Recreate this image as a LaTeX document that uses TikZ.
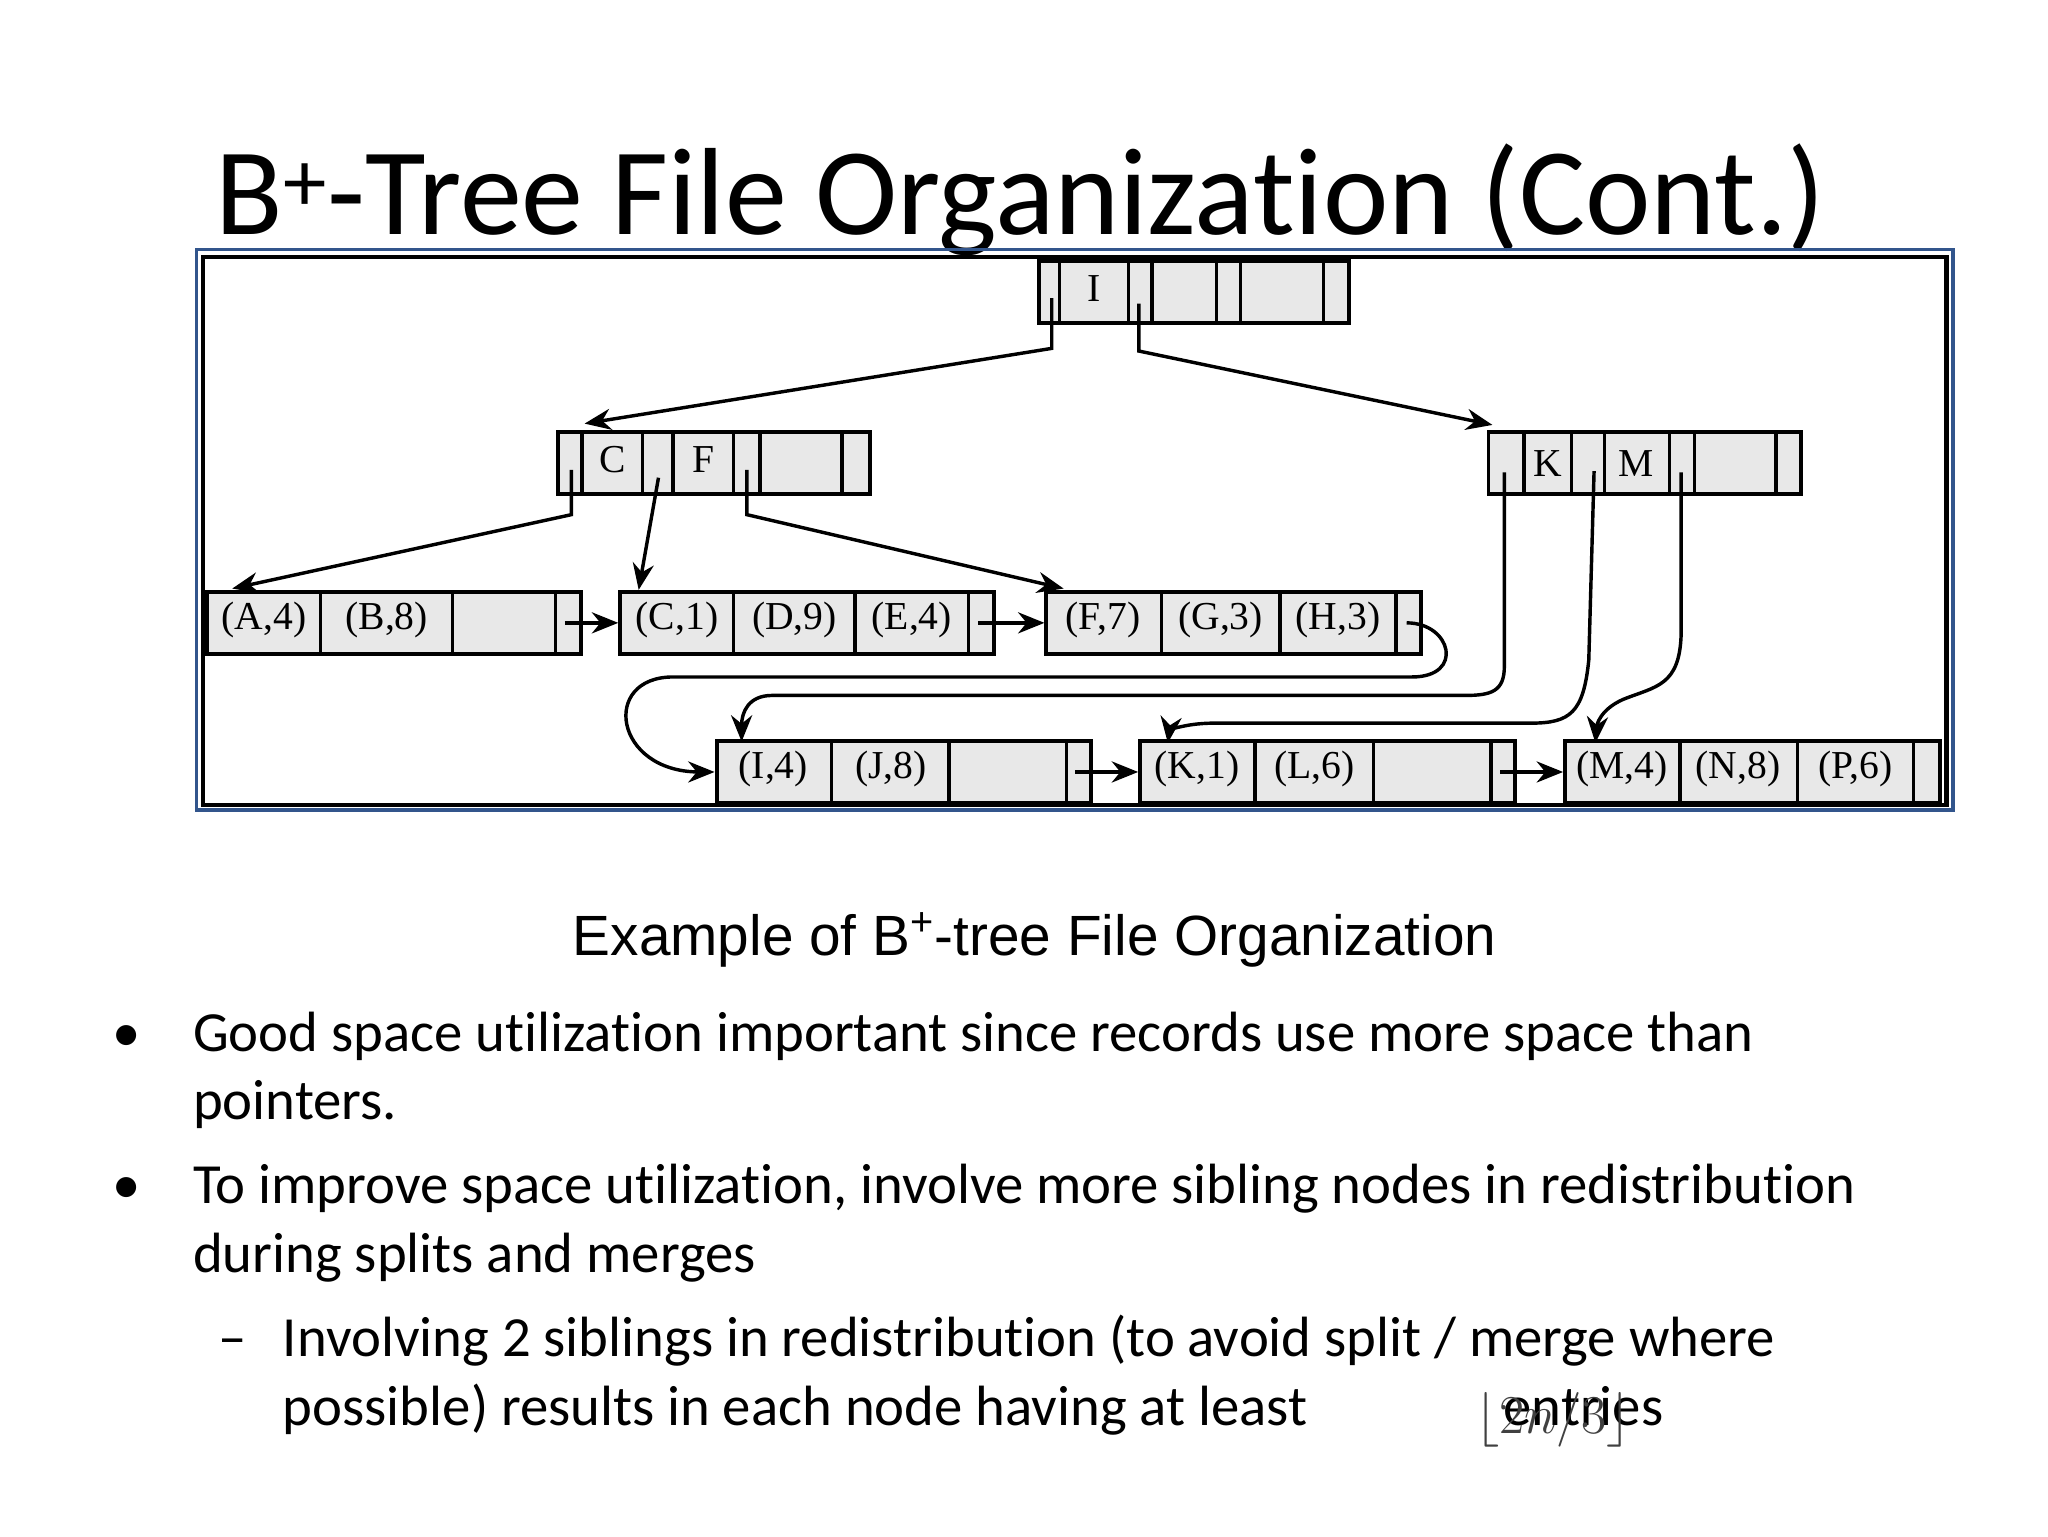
\documentclass[tikz,border=0pt]{standalone}
\usepackage{fontspec}
\setmainfont[RawFeature=-liga]{Carlito}
\newfontfamily\arialf{Liberation Sans}
\newfontfamily\treef{Liberation Serif}
\usetikzlibrary{arrows.meta,calc}
\newcommand{\bnode}[5]{%
  \node[bbox,minimum width={(#3-#2)*0.5pt}] (#1) at ({(#2+#3)/2},#4) {};
  \foreach \b in {#5} \draw[line width=1.3pt] (\b,#4-23) -- (\b,#4+23);
}
\tikzset{
  bbox/.style={draw,line width=1.5pt,fill=gray!18,minimum height=23.5pt,inner sep=0pt},
  lab/.style={font=\treef\fontsize{15}{15}\selectfont,inner sep=0pt},
  conn/.style={line width=1.3pt,-{Stealth[length=10pt,width=8pt]}},
  tick/.style={line width=1.3pt},
  body/.style={font=\fontsize{21.5}{25}\selectfont,anchor=base west,inner sep=0pt},
}
\begin{document}
\begin{tikzpicture}[x=0.5pt,y=-0.5pt]
\useasboundingbox (0,0) rectangle (1552,1164);
% title
\node[anchor=base west,inner sep=0pt,font=\fontsize{47}{50}\selectfont] (title) at (163,178) {B\textsuperscript{+}-Tree File Organization (Cont.)};
% frame
\draw[line width=1.4pt,color={rgb,255:red,50;green,85;blue,140}] (149,189) rectangle (1480,614);
\draw[line width=1.6pt] (154,195) rectangle (1475,610);
% root
\bnode{root}{787}{1022}{221.5}{803,855,873,922,940,1003}
\node[lab] (rI) at (829,219) {I};
% internal
\bnode{cf}{423}{659}{350.5}{441,487,510,556,576,638}
\node[lab] (cC) at (464,348) {C};
\node[lab] (cF) at (533,348) {F};
\bnode{km}{1128}{1365}{351}{1155,1191,1216,1265,1284,1346}
\node[lab] (kK) at (1173,351) {K};
\node[lab] (kM) at (1240,351) {M};
% leaves
\bnode{l1}{157}{440}{472}{243,343,421}
\node[lab] at (200,470) {(A,4)}; \node[lab] at (293,470) {(B,8)};
\bnode{l2}{470}{753}{472}{556,648,734}
\node[lab] at (513,470) {(C,1)}; \node[lab] at (602,470) {(D,9)}; \node[lab] at (691,470) {(E,4)};
\bnode{l3}{793}{1077}{472}{880,970,1058}
\node[lab] at (836,470) {(F,7)}; \node[lab] at (925,470) {(G,3)}; \node[lab] at (1014,470) {(H,3)};
\bnode{l4}{543}{827}{585}{630,719,808}
\node[lab] at (586,583) {(I,4)}; \node[lab] at (675,583) {(J,8)};
\bnode{l5}{864}{1148}{585}{951,1041,1130}
\node[lab] at (907,583) {(K,1)}; \node[lab] at (996,583) {(L,6)};
\bnode{l6}{1186}{1470}{585}{1273,1362,1450}
\node[lab] at (1229,583) {(M,4)}; \node[lab] at (1317,583) {(N,8)}; \node[lab] at (1406,583) {(P,6)};
% pointers from root
\draw[conn] (797,226) -- (797,264) -- (443,321);
\draw[conn] (863,230) -- (863,266) -- (1131,322);
% pointers from cf
\draw[conn] (433,356) -- (433,390) -- (176,446);
\draw[conn] (499,362) -- (484,447);
\draw[conn] (566,356) -- (566,390) -- (806,446);
% leaf chain
\draw[conn] (428,472) -- (l2.west);
\draw[conn] (741,472) -- (l3.west);
\draw[tick] (1066,472) .. controls (1100,472) and (1110,513) .. (1070,513) -- (510,513)
  .. controls (455,513) and (465,585) .. (530,585);
\draw[conn] (528,585) -- (l4.west);
\draw[conn] (815,585) -- (l5.west);
\draw[conn] (1137,585) -- (l6.west);
% pointers from km
\draw[conn] (1140,358) -- (1140,505) .. controls (1140,524) and (1130,527) .. (1110,527) -- (585,527)
  .. controls (567,527) and (562,540) .. (562,562);
\draw[conn] (1208,357) -- (1204,500) .. controls (1200,540) and (1190,548) .. (1160,548) -- (920,548)
  .. controls (895,548) and (886,555) .. (885,563);
\draw[conn] (1274,358) -- (1274,480) .. controls (1273,520) and (1255,520) .. (1230,530)
  .. controls (1212,538) and (1210,550) .. (1209,563);
% caption
\node[anchor=base,inner sep=0pt,font=\arialf\fontsize{21.5}{25}\selectfont] (cap) at (784,724) {Example of B\textsuperscript{+}-tree File Organization};
% bullets
\node[body] (b1) at (85,797) {\textbullet};
\node[body] (t1) at (146,797) {Good space utilization important since records use more space than};
\node[body] (t2) at (146,848) {pointers.};
\node[body] (b2) at (85,912) {\textbullet};
\node[body] (t3) at (146,912) {To improve space utilization, involve more sibling nodes in redistribution};
\node[body] (t4) at (146,964) {during splits and merges};
\node[body] (d1) at (165,1028) {--};
\node[body] (t5) at (214,1028) {Involving 2 siblings in redistribution (to avoid split / merge where};
\node[body] (t6) at (214,1080) {possible) results in each node having at least};
\node[body] (t7) at (1139,1080) {entries};
\node[anchor=base,inner sep=0pt,font=\fontsize{20}{22}\selectfont,text=black!75] (fl) at (1177,1086) {$\lfloor 2n/3\rfloor$};
\end{tikzpicture}
\end{document}
